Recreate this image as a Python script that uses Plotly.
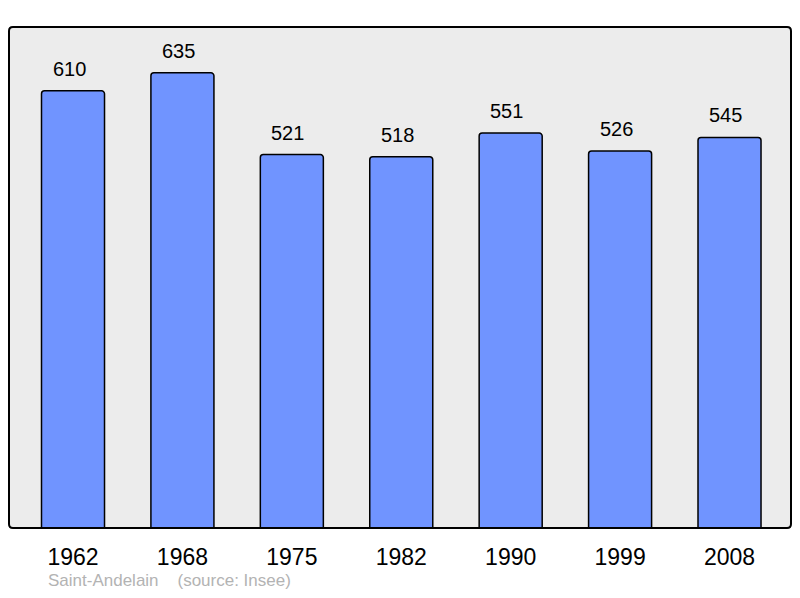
import plotly.graph_objects as go

# --- DATA ---
years = ["1962", "1968", "1975", "1982", "1990", "1999", "2008"]
population = [610, 635, 521, 518, 551, 526, 545]
place = "Saint-Andelain"
source = "(source: Insee)"

xpos = list(range(len(years)))

# page body has an 8px margin, so the figure is 16px smaller than the window
fig = go.Figure(
    go.Bar(
        x=xpos,
        y=population,
        width=0.576,
        marker=dict(color="#7094ff", line=dict(color="#000000", width=1.5), cornerradius=3),
        hoverinfo="skip",
    )
)

# value labels above the bars (sit a little left of bar centre, like the original)
for xi, v in zip(xpos, population):
    fig.add_annotation(
        x=xi, y=v, text=str(v), showarrow=False,
        yanchor="bottom", yshift=9, xshift=-4,
        font=dict(family="Liberation Sans", size=20, color="#000000"),
    )

# footer
fig.add_annotation(
    xref="paper", yref="paper", x=0.047, y=0, yshift=-52,
    xanchor="left", yanchor="middle", showarrow=False,
    text=place + "\u00a0\u00a0\u00a0\u00a0" + source,
    font=dict(family="Liberation Sans", size=17, color="#b3b3b3"),
)

# frame around plot area, slightly rounded corners
rx, ry = 0.005, 0.008
frame = (
    f"M {rx},0 L {1-rx},0 Q 1,0 1,{ry} L 1,{1-ry} Q 1,1 {1-rx},1 "
    f"L {rx},1 Q 0,1 0,{1-ry} L 0,{ry} Q 0,0 {rx},0 Z"
)
fig.add_shape(
    type="path", xref="paper", yref="paper", path=frame,
    line=dict(color="#000000", width=2), layer="above",
)

fig.update_layout(
    width=784, height=582,
    margin=dict(l=1, r=1, t=19, b=62),
    paper_bgcolor="#ffffff",
    plot_bgcolor="#ececec",
    showlegend=False,
    xaxis=dict(
        range=[-0.585, 6.562],
        tickvals=xpos, ticktext=years,
        ticks="outside", ticklen=8, tickcolor="rgba(0,0,0,0)",
        tickfont=dict(family="Liberation Sans", size=23, color="#000000"),
        showgrid=False, zeroline=False, showline=False, fixedrange=True,
    ),
    yaxis=dict(
        range=[0, 699],
        showticklabels=False, showgrid=False, zeroline=False,
        showline=False, fixedrange=True,
    ),
)

fig.write_html("out.html")
